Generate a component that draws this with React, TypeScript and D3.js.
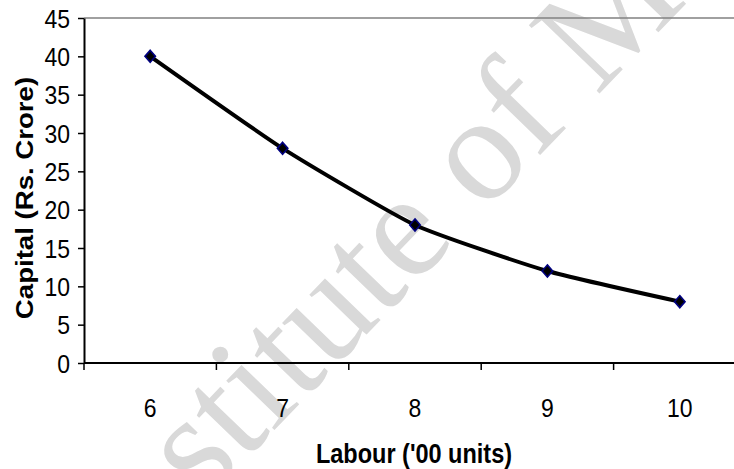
import React, { useEffect, useRef } from "react";
import * as d3 from "d3";

// chart data
const labourUnits = ["6", "7", "8", "9", "10"];
const capitalValues = [40, 28, 18, 12, 8];
const yTicks = [0, 5, 10, 15, 20, 25, 30, 35, 40, 45];
const watermarkText = "Institute of Management";

const sans = "Liberation Sans, Arial, sans-serif";
const stretch = 1.15; // source image is a bit taller than wide

export default function App() {
  const svgRef = useRef<SVGSVGElement>(null);

  useEffect(() => {
    const w = 734;
    const h = 469;
    const left = 84;
    const right = 746;
    const top = 18;
    const bottom = 363;

    const svg = d3.select(svgRef.current);
    svg.selectAll("*").remove();
    svg.attr("width", w).attr("height", h);

    const xScale = d3.scaleBand().domain(labourUnits).range([left, right]);
    const yScale = d3.scaleLinear().domain([0, 45]).range([bottom, top]);

    // faint watermark behind the chart
    svg
      .append("text")
      .attr("transform", "translate(116,594) rotate(-46)")
      .attr("font-family", "Liberation Serif, Times New Roman, serif")
      .attr("font-size", 150)
      .attr("fill", "#d9d9d9")
      .text(watermarkText);

    // top border
    svg
      .append("line")
      .attr("x1", left)
      .attr("x2", w)
      .attr("y1", top)
      .attr("y2", top)
      .attr("stroke", "#808080")
      .attr("stroke-width", 1.5);

    // y axis
    const yAxis = svg
      .append("g")
      .attr("transform", `translate(${left},0)`)
      .call(d3.axisLeft(yScale).tickValues(yTicks).tickSize(6).tickSizeOuter(0).tickFormat(() => ""));
    yAxis.select(".domain").attr("stroke", "#000").attr("stroke-width", 2);
    yAxis.selectAll(".tick line").attr("stroke", "#000").attr("stroke-width", 1.5);
    svg
      .selectAll(".yl")
      .data(yTicks)
      .join("text")
      .attr("transform", (d) => `translate(70,${yScale(d)}) scale(1,${stretch})`)
      .attr("dy", "0.36em")
      .attr("text-anchor", "end")
      .attr("font-family", sans)
      .attr("font-size", 23)
      .text((d) => d);

    // x axis, ticks between categories
    const xAxis = svg.append("g").attr("transform", `translate(0,${bottom})`);
    xAxis
      .append("line")
      .attr("x1", left)
      .attr("x2", w)
      .attr("stroke", "#000")
      .attr("stroke-width", 2);
    const bounds = labourUnits.map((d) => xScale(d) as number).concat([right]);
    xAxis
      .selectAll(".xt")
      .data(bounds)
      .join("line")
      .attr("x1", (d) => d)
      .attr("x2", (d) => d)
      .attr("y1", 0)
      .attr("y2", 7)
      .attr("stroke", "#000")
      .attr("stroke-width", 1.5);
    xAxis
      .selectAll(".xl")
      .data(labourUnits)
      .join("text")
      .attr(
        "transform",
        (d) => `translate(${(xScale(d) as number) + xScale.bandwidth() / 2},54) scale(1,${stretch})`
      )
      .attr("text-anchor", "middle")
      .attr("font-family", sans)
      .attr("font-size", 23)
      .text((d) => d);

    // axis titles
    svg
      .append("text")
      .attr("transform", `translate(414,463) scale(1,${stretch})`)
      .attr("text-anchor", "middle")
      .attr("font-family", sans)
      .attr("font-weight", "bold")
      .attr("font-size", 23.5)
      .text("Labour ('00 units)");
    svg
      .append("text")
      .attr("transform", `translate(33,198) rotate(-90) scale(${stretch},1)`)
      .attr("text-anchor", "middle")
      .attr("font-family", sans)
      .attr("font-weight", "bold")
      .attr("font-size", 24)
      .text("Capital (Rs. Crore)");

    const pts = labourUnits.map((d, i) => [
      (xScale(d) as number) + xScale.bandwidth() / 2,
      yScale(capitalValues[i]),
    ]) as [number, number][];

    const line = d3.line().curve(d3.curveCardinal.tension(0.5));
    svg
      .append("path")
      .attr("d", line(pts))
      .attr("fill", "none")
      .attr("stroke", "#000")
      .attr("stroke-width", 4);

    const diamond = d3.symbol().type(d3.symbolDiamond2).size(70);
    svg
      .selectAll(".pt")
      .data(pts)
      .join("path")
      .attr("transform", (d) => `translate(${d[0]},${d[1]}) scale(1,${stretch})`)
      .attr("d", diamond())
      .attr("fill", "#000")
      .attr("stroke", "#000080")
      .attr("stroke-width", 1.5);
  }, []);

  return (
    <div style={{ position: "fixed", left: 0, top: 0, background: "#fff" }}>
      <svg ref={svgRef} style={{ display: "block" }} />
    </div>
  );
}
